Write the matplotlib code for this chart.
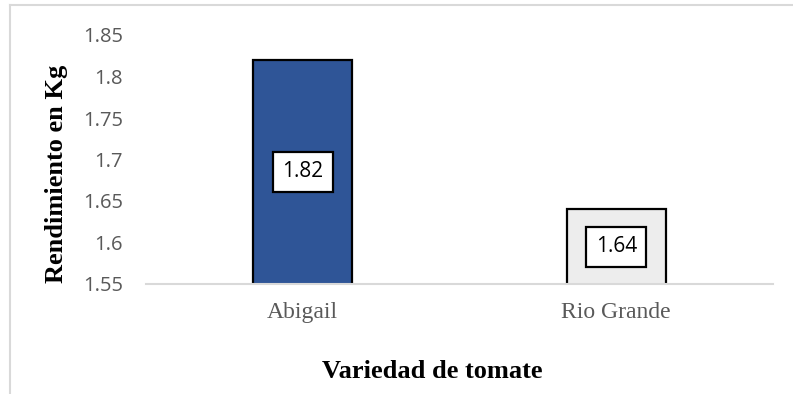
import matplotlib
matplotlib.use("Agg")
import matplotlib.pyplot as plt
from matplotlib.lines import Line2D

# Data
varieties = ["Abigail", "Rio Grande"]
yields_kg = [1.82, 1.64]
bar_colors = ["#2f5597", "#ededed"]
y_ticks = [1.55, 1.6, 1.65, 1.7, 1.75, 1.8, 1.85]
y_tick_labels = ["1.55", "1.6", "1.65", "1.7", "1.75", "1.8", "1.85"]
y_min, y_max = 1.55, 1.85

W, H = 793, 394
fig = plt.figure(figsize=(W / 100, H / 100), dpi=100)
fig.patch.set_facecolor("white")

# chart frame (light gray border)
border_color = "#d9d9d9"
fig.add_artist(Line2D([9.5 / W, 9.5 / W], [0, 1 - 4.5 / H], transform=fig.transFigure,
                      color=border_color, lw=1.5))
fig.add_artist(Line2D([9.5 / W, 1], [1 - 4.5 / H, 1 - 4.5 / H], transform=fig.transFigure,
                      color=border_color, lw=1.5))

# plot area in pixel terms
left, right, top, bottom = 146, 773, 35, 284
ax = fig.add_axes([left / W, 1 - bottom / H, (right - left) / W, (bottom - top) / H])

x = range(len(varieties))
bars = ax.bar(x, yields_kg, width=0.316, bottom=0, color=bar_colors,
              edgecolor="black", linewidth=1.6, zorder=2)

ax.set_xlim(-0.5, len(varieties) - 0.5)
ax.set_ylim(y_min, y_max)

ax.set_yticks(y_ticks)
ax.set_yticklabels(y_tick_labels, fontfamily="Open Sans", fontsize=14.5, color="#595959")
ax.set_xticks(list(x))
ax.set_xticklabels(varieties, fontfamily="Liberation Serif", fontsize=17, color="#595959")
ax.tick_params(axis="y", length=0, pad=16.5)
ax.tick_params(axis="x", length=0, pad=13)

for side in ["left", "right", "top"]:
    ax.spines[side].set_visible(False)
ax.spines["bottom"].set_color("#d9d9d9")
ax.spines["bottom"].set_linewidth(1.5)
ax.spines["bottom"].set_zorder(3)

# value labels centred inside each bar
for xi, val in zip(x, yields_kg):
    ax.text(xi, (y_min + val) / 2, f"{val:.2f}", ha="center", va="center",
            fontfamily="Open Sans", fontsize=15, color="black", zorder=4,
            bbox=dict(boxstyle="square,pad=0.45", facecolor="white",
                      edgecolor="black", linewidth=1.6))

# axis titles
fig.text(57 / W, 1 - 174 / H, "Rendimiento en Kg", rotation=90, ha="center", va="center",
         fontfamily="Liberation Serif", fontweight="bold", fontsize=19, color="black")
fig.text(432 / W, 1 - 378 / H, "Variedad de tomate", ha="center", va="baseline",
         fontfamily="Liberation Serif", fontweight="bold", fontsize=19, color="black")

fig.savefig("out.png", dpi=100, facecolor="white")
